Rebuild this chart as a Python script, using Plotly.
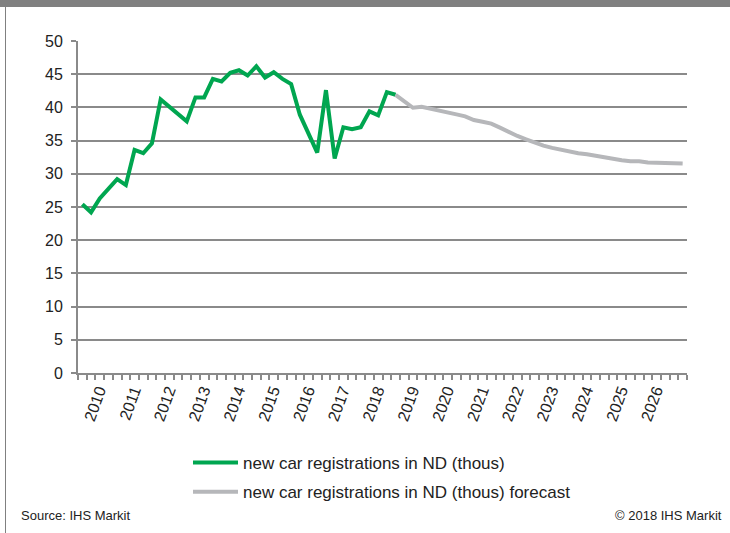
import plotly.graph_objects as go

# ---- data (quarterly, 2010Q1 onward) ----
year_labels = ["2010", "2011", "2012", "2013", "2014", "2015", "2016", "2017", "2018",
               "2019", "2020", "2021", "2022", "2023", "2024", "2025", "2026"]
actual = [25.4, 24.2, 26.3, 27.8, 29.2, 28.3, 33.6, 33.1, 34.6, 41.2, 40.1, 38.9, 37.9,
          41.5, 41.5, 44.3, 43.9, 45.2, 45.6, 44.8, 46.2, 44.5, 45.3, 44.3, 43.5, 38.9,
          36.2, 33.2, 42.6, 32.3, 37.0, 36.7, 37.0, 39.4, 38.8, 42.3, 41.9]
forecast = [41.9, 40.95, 39.95, 40.1, 39.85, 39.45, 39.25, 38.95, 38.65, 38.1, 37.85,
            37.55, 36.95, 36.3, 35.7, 35.2, 34.7, 34.25, 33.9, 33.6, 33.3, 33.1, 32.95,
            32.7, 32.4, 32.2, 32.05, 31.9, 31.9, 31.7, 31.7, 31.7, 31.7, 31.55]
name_actual = "new car registrations in ND (thous)"
name_forecast = "new car registrations in ND (thous) forecast"

n_total = len(actual) + len(forecast) - 1
x_actual = list(range(len(actual)))
x_forecast = list(range(len(actual) - 1, n_total))

W, H = 730, 533
ML, MR, MT, MB = 78, 43, 41, 160
PW, PH = W - ML - MR, H - MT - MB


def px_x(p):
    return (p - ML) / PW


def px_y(p):
    return (H - MB - p) / PH


FONT = "Liberation Sans, Arial, sans-serif"
GRID = "#8a8a8a"

fig = go.Figure()
fig.add_trace(go.Scatter(x=x_actual, y=actual, mode="lines", name=name_actual,
                         line=dict(color="#00a650", width=4), legendgroup="a"))
fig.add_trace(go.Scatter(x=x_forecast, y=forecast, mode="lines", name=name_forecast,
                         line=dict(color="#b6b7ba", width=4), legendgroup="b"))

fig.update_layout(
    width=W, height=H,
    margin=dict(l=ML, r=MR, t=MT, b=MB),
    paper_bgcolor="white", plot_bgcolor="white",
    font=dict(family=FONT, size=16, color="#222222"),
    showlegend=True,
    legend=dict(x=px_x(188), y=px_y(445), xanchor="left", yanchor="top",
                bgcolor="rgba(0,0,0,0)", font=dict(size=17, color="#222222"),
                tracegroupgap=4, itemwidth=45),
    xaxis=dict(range=[-0.5, n_total - 0.5], showgrid=False, zeroline=False,
               showline=True, linecolor=GRID, linewidth=2,
               tickmode="array",
               tickvals=[4 * k + 1.9 for k in range(len(year_labels))],
               ticktext=year_labels, tickangle=-70, ticks="",
               tickfont=dict(size=16, color="#222222"),
               minor=dict(tickmode="linear", tick0=-0.5, dtick=1, ticks="outside",
                          ticklen=5, tickwidth=2, tickcolor=GRID, showgrid=False)),
    yaxis=dict(range=[0, 50], dtick=5, showgrid=True, gridcolor=GRID, gridwidth=2,
               zeroline=False, showline=True, linecolor=GRID, linewidth=2,
               ticks="outside", ticklen=5, tickwidth=2, tickcolor=GRID,
               ticklabelstandoff=5,
               tickfont=dict(size=16, color="#222222")),
    shapes=[
        dict(type="rect", xref="paper", yref="paper", x0=px_x(0), x1=px_x(W),
             y0=px_y(7), y1=px_y(0), fillcolor="#808080", line=dict(width=0), layer="above"),
        dict(type="line", xref="paper", yref="paper", x0=px_x(5.5), x1=px_x(5.5),
             y0=px_y(7), y1=px_y(H), line=dict(color="#808080", width=1)),
    ],
    annotations=[
        dict(text="Source: IHS Markit", xref="paper", yref="paper", x=px_x(19), y=px_y(515),
             xanchor="left", yanchor="middle", showarrow=False,
             font=dict(size=13, color="#222222")),
        dict(text="© 2018 IHS Markit", xref="paper", yref="paper", x=px_x(724), y=px_y(515),
             xanchor="right", yanchor="middle", showarrow=False,
             font=dict(size=13, color="#222222")),
    ],
)

fig.write_html("out.html", config={"displayModeBar": False},
               post_script="document.body.style.margin='0';document.body.style.overflow='hidden';")
